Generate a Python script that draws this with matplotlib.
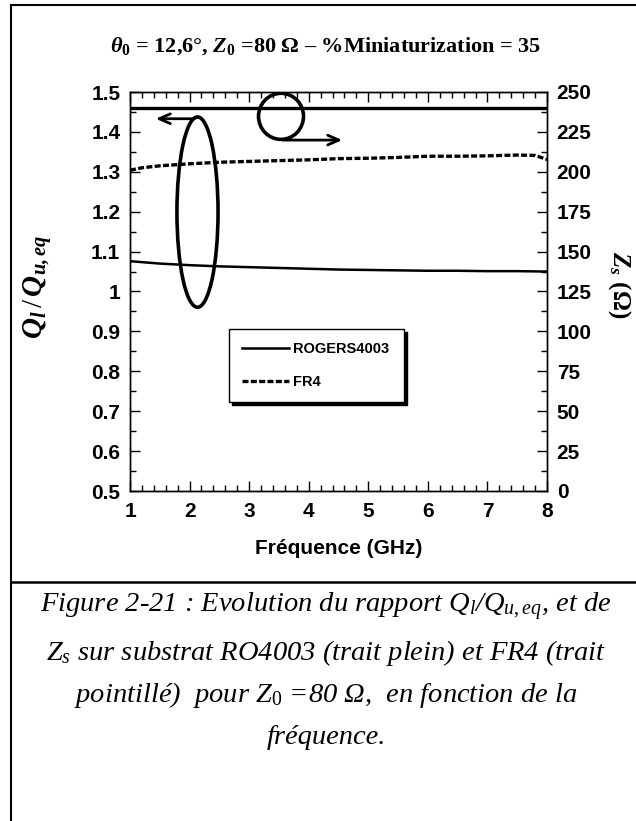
import matplotlib
matplotlib.use('Agg')
import matplotlib.pyplot as plt
from matplotlib.patches import Ellipse
from matplotlib.lines import Line2D
from matplotlib.ticker import MultipleLocator

plt.rcParams['font.family'] = ['Liberation Sans', 'DejaVu Sans']
plt.rcParams['mathtext.fontset'] = 'custom'
plt.rcParams['mathtext.rm'] = 'Liberation Serif'
plt.rcParams['mathtext.it'] = 'Liberation Serif:italic'
plt.rcParams['mathtext.bf'] = 'Liberation Serif:bold'
plt.rcParams['mathtext.bfit'] = 'Liberation Serif:italic:bold'

# Q_l / Q_u,eq  (axe gauche)
freq_ro = [1, 1.5, 2, 2.5, 3, 3.5, 4, 4.5, 5, 5.5, 6, 6.5, 7, 7.5, 8]
q_ro = [1.076, 1.070, 1.066, 1.063, 1.061, 1.059, 1.057, 1.055, 1.054,
        1.053, 1.052, 1.052, 1.051, 1.051, 1.050]
freq_fr4 = [1, 1.2, 1.5, 2, 2.5, 3, 3.5, 4, 4.5, 5, 5.5, 6, 6.5, 7, 7.5, 7.8, 8]
q_fr4 = [1.304, 1.310, 1.315, 1.320, 1.324, 1.326, 1.328, 1.330, 1.333,
         1.334, 1.336, 1.339, 1.339, 1.340, 1.342, 1.341, 1.331]

# Zs (axe droit)
freq_zs = [1, 2, 3, 4, 5, 6, 7, 8]
zs_ro = [240.2, 240.2, 240.2, 240.2, 240.2, 240.2, 240.2, 240.2]

fig = plt.figure(figsize=(6.36, 8.21), dpi=100)
ax = fig.add_axes([130 / 636, 1 - 491 / 821, 417 / 636, 399 / 821])
ax2 = ax.twinx()

ax.plot(freq_ro, q_ro, color='black', lw=1.8, label='ROGERS4003')
ax.plot(freq_fr4, q_fr4, color='black', lw=2.4, ls=(0, (1.8, 0.7)), label='FR4')
ax2.plot(freq_zs, zs_ro, color='black', lw=2.4)

ax.set_xlim(1, 8)
ax.set_ylim(0.5, 1.5)
ax2.set_ylim(0, 250)

ax.xaxis.set_major_locator(MultipleLocator(1))
ax.xaxis.set_minor_locator(MultipleLocator(0.2))
ax.yaxis.set_major_locator(MultipleLocator(0.1))
ax.yaxis.set_minor_locator(MultipleLocator(0.05))
ax2.yaxis.set_major_locator(MultipleLocator(25))
ax2.yaxis.set_minor_locator(MultipleLocator(12.5))

ax.yaxis.set_major_formatter(plt.FuncFormatter(lambda v, p: f'{v:g}'))

for a in (ax, ax2):
    a.tick_params(which='both', direction='in', width=1, labelsize=15)
    a.tick_params(which='major', length=7)
    a.tick_params(which='minor', length=4)
    for s in a.spines.values():
        s.set_linewidth(1)
ax.tick_params(axis='x', which='both', top=True, pad=8)
ax.tick_params(axis='y', pad=7)
ax2.tick_params(axis='y', pad=7)
for lab in ax.get_xticklabels() + ax.get_yticklabels() + ax2.get_yticklabels():
    lab.set_fontweight('bold')

ax.set_xlabel('Fréquence (GHz)', fontsize=15, fontweight='bold', labelpad=13)

fig.text(38 / 636, 1 - 287 / 821, r'$\mathbfit{Q}_{\mathbfit{l}}\,/\,\mathbfit{Q}_{\mathbfit{u,eq}}$',
         rotation=90, ha='center', va='center', fontsize=21)
fig.text(619 / 636, 1 - 285 / 821, r'$\mathbfit{Z}_{\mathbfit{s}}$ $\mathbf{(\Omega)}$',
         rotation=-90, ha='center', va='center', fontsize=18)

fig.text(326 / 636, 1 - 46 / 821,
         r'$\mathbfit{\theta}_{\mathbf{0}}$ = 12,6°, $\mathbfit{Z}_{\mathbf{0}}$ =80 Ω – %Miniaturization = 35',
         ha='center', va='center', fontsize=16, fontweight='bold', family='Liberation Serif')

# ellipse + flèche vers l'axe gauche
ax.add_patch(Ellipse((2.133, 1.199), 0.69, 0.477, fill=False, lw=2.6, color='black'))
ax.annotate('', xy=(1.386, 1.433), xytext=(2.13, 1.433),
            arrowprops=dict(arrowstyle='->,head_length=0.8,head_width=0.35', lw=2, color='black'))
# cercle + flèche vers l'axe droit
ax.add_patch(Ellipse((3.535, 1.439), 0.755, 0.1155, fill=False, lw=2.6, color='black'))
ax.annotate('', xy=(4.61, 1.3795), xytext=(3.52, 1.3795),
            arrowprops=dict(arrowstyle='->,head_length=0.8,head_width=0.35', lw=2, color='black'))

leg = ax.legend(loc='lower left', bbox_to_anchor=(0.237, 0.223, 0.42, 0.193), mode='expand',
                borderaxespad=0, fancybox=False, edgecolor='black', framealpha=1,
                handlelength=3.2, handletextpad=0.3, labelspacing=1.3, borderpad=0.9,
                prop={'family': 'Liberation Sans', 'weight': 'bold', 'size': 10.5},
                shadow={'color': 'black', 'alpha': 1, 'ox': 2.5, 'oy': -2.5})
leg.get_frame().set_linewidth(1)

# cadre et séparateur de la légende de figure
lx = 11 / 636
fig.add_artist(Line2D([lx, lx], [0, 1 - 5 / 821], color='black', lw=1.5))
fig.add_artist(Line2D([lx, 1], [1 - 5 / 821, 1 - 5 / 821], color='black', lw=1.5))
fig.add_artist(Line2D([lx, 1], [1 - 582 / 821, 1 - 582 / 821], color='black', lw=1.8))

caption = [
    r'Figure 2-21 : Evolution du rapport $Q_{l}$/$Q_{u,eq}$, et de',
    r'$Z_{s}$ sur substrat RO4003 (trait plein) et FR4 (trait',
    r'pointillé)  pour $Z_{\mathit{0}}$ =80 Ω,  en fonction de la',
    'fréquence.',
]
cap_y = [607, 653, 695, 737]
for line, y in zip(caption, cap_y):
    fig.text(326 / 636, 1 - y / 821, line, ha='center', va='center', fontsize=20.5,
             family='Liberation Serif', style='italic')

fig.savefig('out.png', dpi=100)
